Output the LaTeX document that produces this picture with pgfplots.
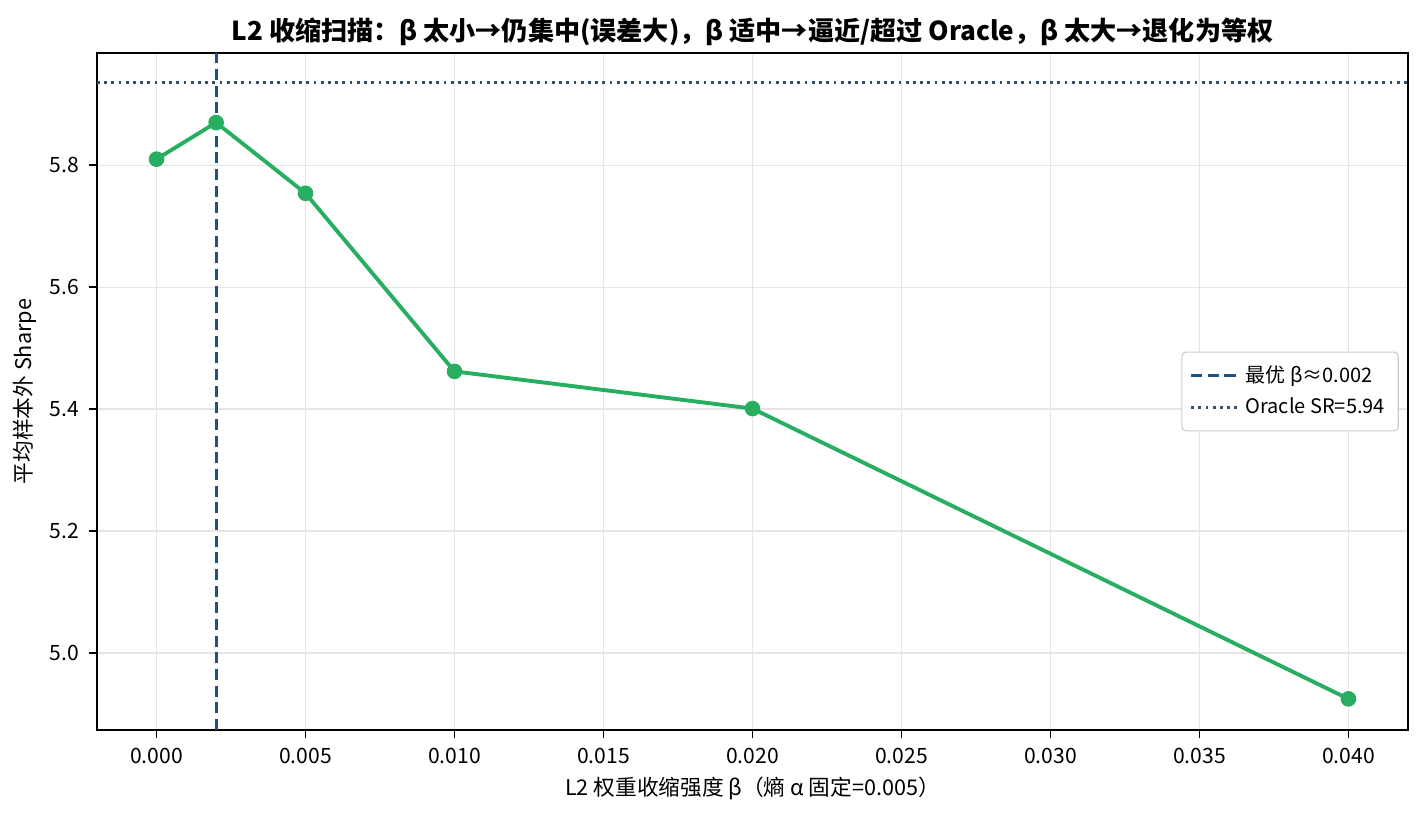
\documentclass[border=0pt]{standalone}
\usepackage{fontspec}
\setmainfont{Noto Sans CJK SC}
\usepackage{pgfplots}
\pgfplotsset{compat=1.18}
\definecolor{lgreen}{HTML}{27AE60}
\definecolor{dblue}{HTML}{1F5283}
\definecolor{dslate}{HTML}{34506E}
\begin{document}
\begin{tikzpicture}
\begin{axis}[
  scale only axis,
  width=472pt, height=243.7pt,
  xmin=-0.002, xmax=0.042,
  ymin=4.874, ymax=5.984,
  xtick={0,0.005,0.01,0.015,0.02,0.025,0.03,0.035,0.04},
  ytick={5.0,5.2,5.4,5.6,5.8},
  scaled x ticks=false,
  x tick label style={/pgf/number format/.cd,fixed,fixed zerofill,precision=3,assume math mode=true},
  y tick label style={/pgf/number format/.cd,fixed,fixed zerofill,precision=1,assume math mode=true},
  tick label style={font=\fontsize{7.6}{9}\selectfont},
  tick align=outside,
  tick pos=left,
  major tick length=3pt,
  tick style={black, line width=0.6pt},
  axis line style={line width=0.6pt},
  grid=major,
  grid style={color=black!10, line width=0.5pt},
  title={\bfseries L2 收缩扫描：β 太小→仍集中(误差大)，β 适中→逼近/超过 Oracle，β 太大→退化为等权},
  title style={font=\fontsize{9.4}{11}\selectfont, yshift=-6.8pt},
  xlabel={L2 权重收缩强度 β（熵 α 固定=0.005）},
  ylabel={平均样本外 Sharpe},
  label style={font=\fontsize{7.8}{9}\selectfont},
  xlabel style={yshift=2pt},
  ylabel style={yshift=-2pt},
  legend style={at={(0.993,0.5)}, anchor=east, font=\fontsize{7.2}{8.5}\selectfont,
    draw=black!20, rounded corners=1.5pt, row sep=0pt, inner sep=2.8pt},
  legend cell align=left,
]
\addplot[dblue, dashed, line width=1.1pt, dash pattern=on 4pt off 2pt] coordinates {(0.002,4.874) (0.002,5.984)};
\addlegendentry{最优 β≈0.002}
\addplot[dslate, line width=1.0pt, dash pattern=on 1pt off 1.6pt] coordinates {(-0.002,5.936) (0.042,5.936)};
\addlegendentry{Oracle SR=5.94}
\addplot[lgreen, line width=1.4pt, mark=*, mark size=2.1pt, mark options={solid, fill=lgreen, draw=lgreen}, forget plot] coordinates {
  (0,5.810) (0.002,5.870) (0.005,5.754) (0.01,5.462) (0.02,5.401) (0.04,4.925)
};
\coordinate (A) at (rel axis cs:0,0);
\coordinate (B) at (rel axis cs:1,1);
\end{axis}
\path ([shift={(-34.9pt,-31pt)}]A) rectangle ([shift={(5.76pt,19.1pt)}]B);
\end{tikzpicture}
\end{document}
